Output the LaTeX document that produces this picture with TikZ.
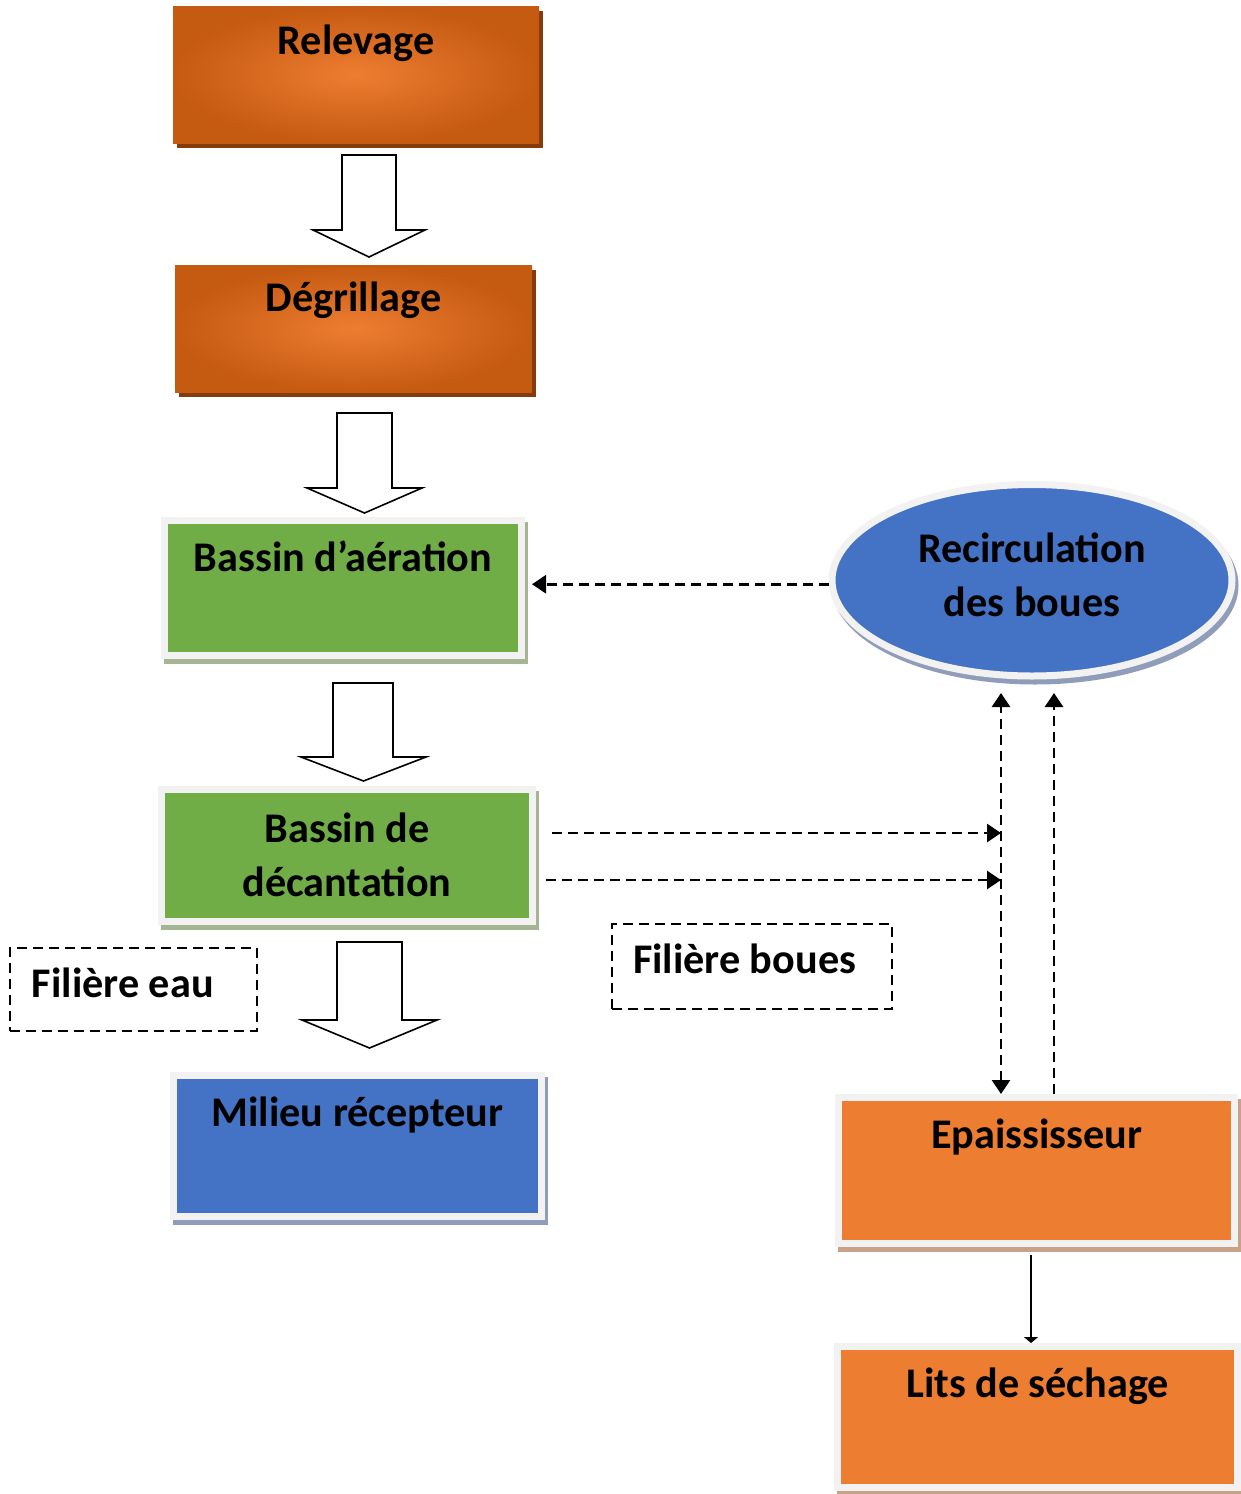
\documentclass[tikz,border=0pt]{standalone}
\usepackage{fontspec}
\setmainfont{Carlito}
\usetikzlibrary{arrows.meta, shadows, shapes.geometric, positioning}

\definecolor{vert}{HTML}{70AD47}
\definecolor{bleu}{HTML}{4472C4}
\definecolor{orangeclair}{HTML}{ED7D31}
\definecolor{orangefonce}{HTML}{C55A11}
\definecolor{brunombre}{HTML}{843C0C}
\definecolor{cadre}{HTML}{F2F2F2}
\definecolor{ombrevert}{HTML}{A6B494}
\definecolor{ombrebleu}{HTML}{8F9DBA}
\definecolor{ombreorange}{HTML}{C9A186}

\begin{document}
\begin{tikzpicture}[
    x=0.5pt, y=-0.5pt,
    every node/.style={font=\fontsize{21.1}{27}\selectfont\bfseries, inner sep=0pt},
    degrade/.style={rectangle, inner color=orangeclair, outer color=orangefonce,
        drop shadow={shadow xshift=1.75pt, shadow yshift=-2.5pt, fill=brunombre, opacity=1}},
    boite/.style={rectangle, draw=cadre, line width=3.5pt},
    ombre/.style={drop shadow={shadow xshift=1.5pt, shadow yshift=-2.5pt, fill=#1, draw=#1, line width=3.5pt, opacity=1}},
    pointille/.style={draw, dash pattern=on 5pt off 3pt, line width=1.1pt},
    fleche/.style={-{Triangle[length=7pt, width=9pt]}, dash pattern=on 5pt off 3pt, line width=1.4pt},
    doublefleche/.style={{Triangle[length=7pt, width=9pt]}-{Triangle[length=7pt, width=9pt]}, dash pattern=on 5pt off 3pt, line width=1.4pt},
    grossefleche/.style={draw, fill=white, line width=0.8pt, line join=miter}
]
\useasboundingbox (0,0) rectangle (1241,1494);

% Filière eau
\node[degrade, minimum width=183pt, text height=24pt, text depth=44.5pt] (relevage) at (356,74.5) {Relevage};
\node[degrade, minimum width=178.5pt, text height=23pt, text depth=40.5pt] (degrillage) at (353.5,328.5) {Dégrillage};
\node[boite, fill=vert, ombre=ombrevert, minimum width=178.5pt, text height=25.25pt, text depth=42.25pt] (aeration) at (343,588) {Bassin d’aération};
\node[boite, fill=vert, ombre=ombrevert, minimum width=185.5pt, minimum height=66pt, align=center] (decantation) at (347,855.5) {Bassin de\\décantation\rule[-1pt]{0pt}{1pt}};
\node[boite, fill=bleu, ombre=ombrebleu, minimum width=184pt, text height=25.25pt, text depth=45.25pt] (milieu) at (357.5,1146) {Milieu récepteur};

% Filière boues
\node[ellipse, draw=cadre, line width=3.5pt, fill=bleu, ombre=ombrebleu, minimum width=200pt, minimum height=95.75pt, align=center] (recirculation) at (1032,580.25) {Recirculation\\des boues\rule[-6pt]{0pt}{6pt}};
\node[boite, fill=orangeclair, ombre=ombreorange, minimum width=198pt, text height=25.25pt, text depth=47.75pt] (epaississeur) at (1036.5,1170.5) {Epaississeur};
\node[boite, fill=orangeclair, ombre=ombreorange, minimum width=200pt, text height=25.25pt, text depth=45.25pt] (lits) at (1037.5,1417) {Lits de séchage};

% Etiquettes
\node[pointille, text width=101.5pt, inner xsep=11pt, align=flush left, text height=24.5pt, text depth=17pt] (eau) at (133.5,989.5) {Filière eau};
\node[pointille, text width=119pt, inner xsep=10.5pt, align=flush left, text height=24.5pt, text depth=18pt] (boues) at (752,966.5) {Filière boues};

% Grosses flèches
\draw[grossefleche] (342,155) -- (396,155) -- (396,230) -- (425,230) -- (369,257) -- (313,230) -- (342,230) -- cycle;
\draw[grossefleche] (337,413) -- (392,413) -- (392,488) -- (422,488) -- (364.5,513) -- (307,488) -- (337,488) -- cycle;
\draw[grossefleche] (333,683) -- (393,683) -- (393,757) -- (426,757) -- (363.5,781) -- (301,757) -- (333,757) -- cycle;
\draw[grossefleche] (337,942) -- (402,942) -- (402,1020) -- (437,1020) -- (369.5,1048) -- (302,1020) -- (337,1020) -- cycle;

% Flèches pointillées
\coordinate (montee1) at ([xshift=-17.75pt]epaississeur.north);
\coordinate (montee2) at ([xshift=8.75pt]epaississeur.north);
\draw[fleche] ([yshift=-2pt]recirculation.west) -- ([xshift=3.5pt, yshift=-2pt]recirculation.west -| aeration.east);
\draw[fleche] ([xshift=8pt, yshift=11.25pt]decantation.east) -- ([yshift=11.25pt]decantation.east -| montee1);
\draw[fleche] ([xshift=5pt, yshift=-12.25pt]decantation.east) -- ([yshift=-12.25pt]decantation.east -| montee1);
\draw[doublefleche] (montee1) -- ([yshift=-6.75pt]montee1 |- recirculation.south);
\draw[fleche] (montee2) -- ([yshift=-6.75pt]montee2 |- recirculation.south);

% Séchage
\draw[-{Triangle[length=3pt, width=7pt]}, line width=0.8pt] ([xshift=-2.75pt, yshift=-4pt]epaississeur.south) -- ([xshift=-2.75pt]epaississeur.south |- lits.north);
\end{tikzpicture}
\end{document}
